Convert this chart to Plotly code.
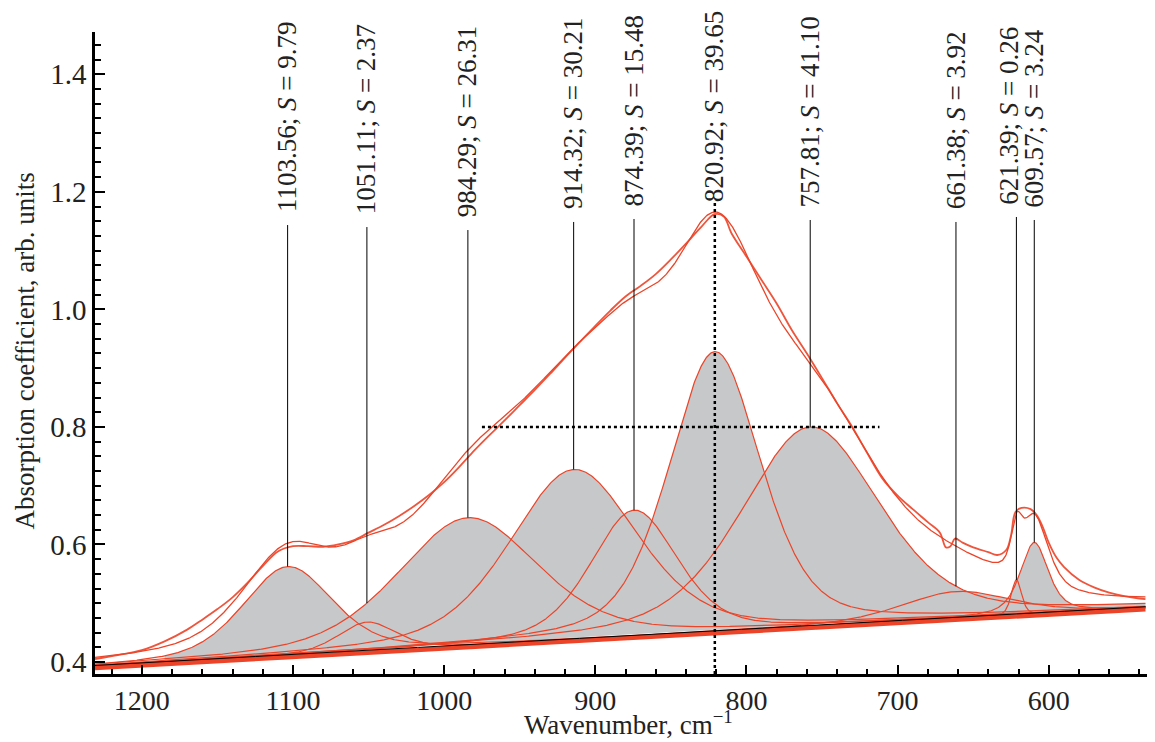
import numpy as np
import plotly.graph_objects as go

# ---------------- data ----------------
centers = [1103.56, 1051.11, 984.29, 914.32, 874.39, 820.92, 757.81, 661.38, 621.39, 609.57]
areas_S = ["9.79", "2.37", "26.31", "30.21", "15.48", "39.65", "41.10", "3.92", "0.26", "3.24"]
heights = [0.152, 0.050, 0.218, 0.290, 0.215, 0.477, 0.340, 0.046, 0.060, 0.122]
fwhm = [70, 45, 110, 100, 68, 72, 108, 85, 8, 22]
lorentz_frac = [0.4, 0.4, 0.4, 0.4, 0.4, 0.4, 0.4, 0.4, 0.4, 0.6]

baseline_w = [1231, 536]
baseline_v = [0.392, 0.492]

meas_w = [1231, 1215, 1200, 1185, 1170, 1160, 1150, 1140, 1130, 1120, 1110, 1100, 1090, 1080,
          1070, 1060, 1050, 1040, 1030, 1020, 1010, 1000, 990, 980, 970, 960, 950, 940, 930,
          920, 910, 900, 890, 880, 870, 860, 850, 840, 830, 821, 815, 810, 800, 790, 780, 770,
          760, 750, 740, 730, 720, 710, 700, 690, 680, 672, 668, 665, 662, 657, 650, 640, 634,
          628, 625, 622, 618, 612, 608, 604, 600, 595, 590, 580, 570, 560, 550, 540, 536]
meas_v = [0.405, 0.412, 0.420, 0.435, 0.455, 0.472, 0.490, 0.510, 0.535, 0.563, 0.588, 0.597,
          0.597, 0.596, 0.600, 0.607, 0.620, 0.633, 0.648, 0.665, 0.684, 0.706, 0.732, 0.760,
          0.786, 0.811, 0.837, 0.863, 0.890, 0.918, 0.945, 0.972, 0.998, 1.022, 1.040, 1.060,
          1.085, 1.112, 1.140, 1.162, 1.158, 1.130, 1.090, 1.050, 1.010, 0.965, 0.925, 0.883,
          0.840, 0.800, 0.755, 0.712, 0.683, 0.660, 0.638, 0.620, 0.595, 0.597, 0.610, 0.603,
          0.595, 0.587, 0.582, 0.591, 0.615, 0.655, 0.662, 0.660, 0.650, 0.630, 0.603, 0.578,
          0.562, 0.540, 0.527, 0.518, 0.512, 0.508, 0.507]

fill_start = 1185
hline_y = 0.80
hline_w = [975, 712]
# bottom of each rotated label, in data units
label_y = [1.1615, 1.1581, 1.1530, 1.1667, 1.1718, 1.1786, 1.1701, 1.1667, 1.1752, 1.1701]
label_xshift = [0, 0, 0, 0, 0, 0, 0, 0, -7, 0]

x_ticks = [1200, 1100, 1000, 900, 800, 700, 600]
y_ticks = [0.4, 0.6, 0.8, 1.0, 1.2, 1.4]

# ---------------- model curves ----------------
wn = np.linspace(baseline_w[0], baseline_w[1], 1600)
base = np.interp(wn, baseline_w[::-1], baseline_v[::-1])


def profile(c, a, f, eta):
    d = wn - c
    g = np.exp(-4 * np.log(2) * (d / f) ** 2)
    lo = 1.0 / (1.0 + (2 * d / f) ** 2)
    return a * (eta * lo + (1 - eta) * g)


comps = [profile(c, a, f, e) for c, a, f, e in zip(centers, heights, fwhm, lorentz_frac)]
comp_max = np.max(comps, axis=0)
fit_sum = base + np.sum(comps, axis=0)

RED = "#ec4428"
GRAY = "#c7c8ca"
FONT = "Liberation Serif"
TXT = "#222222"

fig = go.Figure()

mask = wn <= fill_start
fig.add_trace(go.Scatter(x=wn[mask], y=base[mask] + 0.004, mode="lines",
                         line=dict(width=0, color=GRAY), showlegend=False, hoverinfo="skip"))
fig.add_trace(go.Scatter(x=wn[mask], y=base[mask] + comp_max[mask], mode="lines",
                         line=dict(width=0, color=GRAY), fill="tonexty", fillcolor=GRAY,
                         showlegend=False, hoverinfo="skip"))

for comp in comps:
    fig.add_trace(go.Scatter(x=wn, y=base + comp, mode="lines",
                             line=dict(color=RED, width=1.2), showlegend=False))

fig.add_trace(go.Scatter(x=wn, y=base - 0.003, mode="lines",
                         line=dict(color=RED, width=3.5), showlegend=False))
fig.add_trace(go.Scatter(x=wn, y=base + 0.002, mode="lines",
                         line=dict(color="black", width=1), showlegend=False))

fig.add_trace(go.Scatter(x=wn, y=fit_sum, mode="lines",
                         line=dict(color=RED, width=1.3), showlegend=False))
fig.add_trace(go.Scatter(x=meas_w, y=meas_v, mode="lines", line_shape="spline",
                         line=dict(color=RED, width=1.8), opacity=0.9, showlegend=False))

# dotted guide lines
y_bottom = 0.3795
y_top = 1.472
fig.add_trace(go.Scatter(x=hline_w, y=[hline_y, hline_y], mode="lines",
                         line=dict(color="black", width=2.5, dash="dot"), showlegend=False))
fig.add_trace(go.Scatter(x=[centers[5], centers[5]], y=[y_bottom, 1.183], mode="lines",
                         line=dict(color="black", width=2.5, dash="dot"), showlegend=False))

# label leader lines and labels
for i, (c, s) in enumerate(zip(centers, areas_S)):
    yb = float(np.interp(c, wn[::-1], (base + comp_max)[::-1]))
    if i != 5:
        fig.add_shape(type="line", x0=c, x1=c, y0=yb, y1=label_y[i] - 0.018,
                      xref="x", yref="y", line=dict(color="black", width=1))
    fig.add_annotation(x=c, y=label_y[i], xref="x", yref="y",
                       text=f"{c:.2f}; <i>S</i> = {s}", xshift=label_xshift[i],
                       textangle=-90, showarrow=False, xanchor="center", yanchor="bottom",
                       font=dict(family=FONT, size=27, color=TXT))

# axis titles
fig.add_annotation(x=0.506, y=-0.1045, xref="paper", yref="paper",
                   text="Wavenumber, cm<sup>\u22121</sup>", showarrow=False,
                   xanchor="center", yanchor="bottom", borderpad=0,
                   font=dict(family=FONT, size=27, color=TXT))
fig.add_annotation(x=-0.066, y=0.503, xref="paper", yref="paper",
                   text="Absorption coefficient, arb. units", textangle=-90, showarrow=False,
                   xanchor="center", yanchor="middle",
                   font=dict(family=FONT, size=27, color=TXT))

fig.update_layout(
    width=1147, height=734,
    margin=dict(l=87, r=5, t=24, b=68),
    plot_bgcolor="white", paper_bgcolor="white",
    font=dict(family=FONT, size=28, color=TXT),
    xaxis=dict(range=[1231, 533], tickvals=x_ticks, ticks="inside", ticklen=9, tickwidth=1.5,
               tickcolor="black", showline=True, linecolor="black", linewidth=2.5,
               showgrid=False, zeroline=False, ticklabelstandoff=0,
               tickfont=dict(family=FONT, size=28, color=TXT),
               minor=dict(dtick=20, ticks="inside", ticklen=5, tickwidth=1.5, tickcolor="black",
                          showgrid=False)),
    yaxis=dict(range=[y_bottom, y_top], tickvals=y_ticks, tickformat=".1f", ticks="inside",
               ticklen=10, tickwidth=1.5, tickcolor="black", showline=True, linecolor="black",
               linewidth=2.5, showgrid=False, zeroline=False, ticklabelstandoff=0,
               tickfont=dict(family=FONT, size=29, color=TXT),
               minor=dict(dtick=0.025, ticks="inside", ticklen=6, tickwidth=1.5,
                          tickcolor="black", showgrid=False)),
)

fig.write_html("out.html")
